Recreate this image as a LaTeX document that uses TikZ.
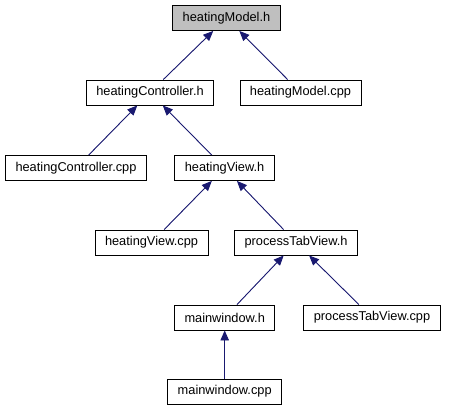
\documentclass[tikz,border=0pt]{standalone}
\usepackage{fontspec}
\setmainfont{Liberation Sans}
\usetikzlibrary{arrows.meta}
\definecolor{depblue}{HTML}{191970}

\begin{document}
\begin{tikzpicture}[
    x=1pt, y=-1pt,
    every node/.style={font=\fontsize{12.8}{15}\selectfont},
    file/.style={draw=black, line width=0.9pt, fill=white, minimum height=25pt, inner xsep=10pt, inner ysep=0pt},
    root/.style={file, fill=black!25},
    arrow/.style={-{Triangle[length=10pt, width=8.5pt]}, draw=depblue, fill=depblue, line width=0.9pt}
]
\useasboundingbox (0, 0) rectangle (449, 411);

% ============ HEADERS ============
\node[root] (model) at (226.5, 18) {heatingModel.h};
\node[file] (ctrl) at (150, 92.5) {heatingController.h};
\node[file] (modelcpp) at (300.5, 92.5) {heatingModel.cpp};
\node[file] (ctrlcpp) at (76, 168) {heatingController.cpp};
\node[file] (view) at (224.5, 168) {heatingView.h};
\node[file] (viewcpp) at (151.5, 242.5) {heatingView.cpp};
\node[file] (tab) at (296, 242.5) {processTabView.h};
\node[file] (main) at (224.7, 317.5) {mainwindow.h};
\node[file] (tabcpp) at (372, 317.5) {processTabView.cpp};
\node[file] (maincpp) at (224.7, 391.5) {mainwindow.cpp};

% ============ INCLUDES ============
\draw[arrow] (ctrl) -- (model);
\draw[arrow] (modelcpp) -- (model);
\draw[arrow] (ctrlcpp) -- (ctrl);
\draw[arrow] (view) -- (ctrl);
\draw[arrow] (viewcpp) -- (view);
\draw[arrow] (tab) -- (view);
\draw[arrow] (main) -- (tab);
\draw[arrow] (tabcpp) -- (tab);
\draw[arrow] (maincpp) -- (main);

\end{tikzpicture}
\end{document}
